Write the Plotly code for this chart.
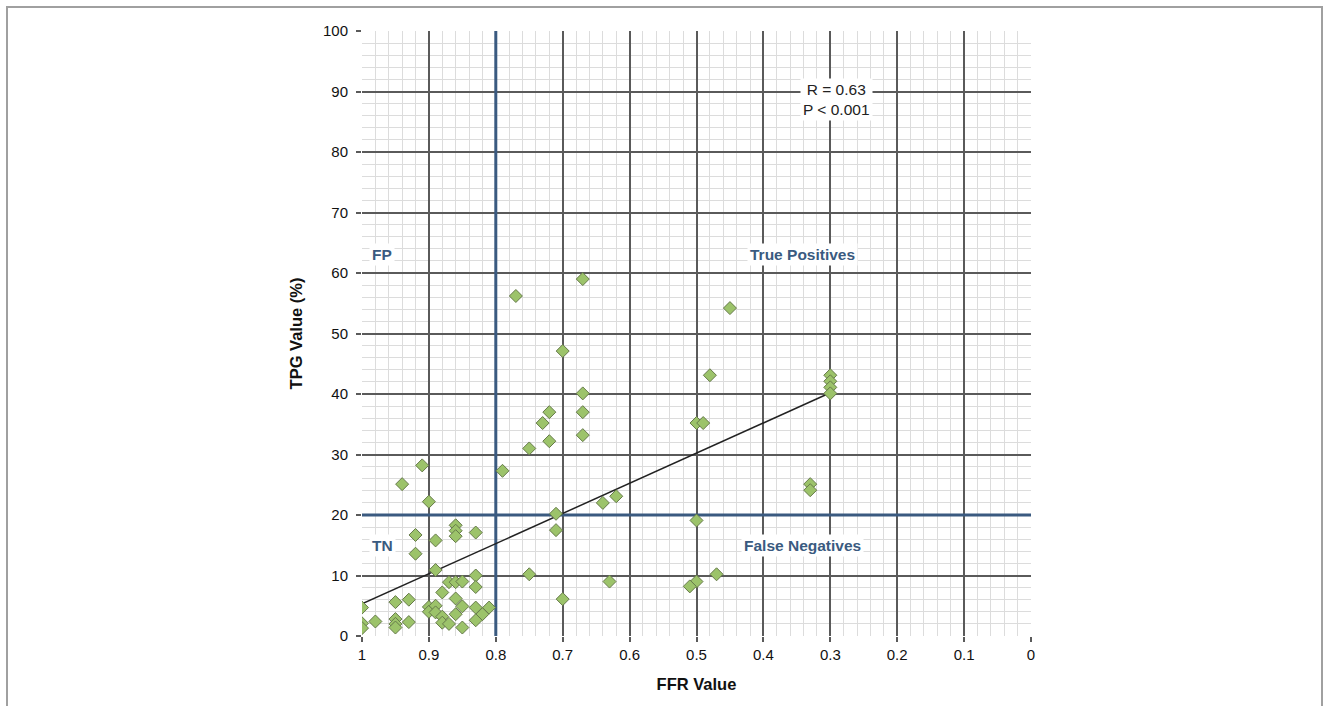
import plotly.graph_objects as go

# ---- data ----
ffr = [0.67, 0.77, 0.45, 0.70, 0.48, 0.30, 0.30, 0.30, 0.30, 0.67,
       0.67, 0.72, 0.73, 0.50, 0.49, 0.67, 0.72, 0.75, 0.91, 0.79,
       0.94, 0.33, 0.33, 0.62, 0.64, 0.90, 0.71, 0.50, 0.86, 0.86,
       0.86, 0.83, 0.92, 0.89, 0.71, 0.92, 0.89, 0.75, 0.47, 0.83,
       0.87, 0.86, 0.85, 0.63, 0.50, 0.51, 0.83, 0.88, 0.86, 0.70,
       0.93, 0.95, 1.00, 0.90, 0.90, 0.89, 0.89, 0.85, 0.83, 0.81,
       0.82, 0.86, 0.88, 0.95, 0.95, 0.95, 0.93, 0.98, 1.00, 1.00,
       0.88, 0.87, 0.83, 0.85]
tpg = [59.0, 56.2, 54.2, 47.1, 43.1, 43.1, 42.1, 41.1, 40.1, 40.1,
       37.0, 37.0, 35.2, 35.2, 35.2, 33.2, 32.2, 31.0, 28.2, 27.3,
       25.1, 25.1, 24.1, 23.1, 22.0, 22.2, 20.2, 19.1, 18.3, 17.4,
       16.5, 17.1, 16.7, 15.8, 17.5, 13.6, 10.9, 10.2, 10.2, 10.0,
       8.9, 8.9, 9.0, 9.0, 9.0, 8.2, 8.1, 7.2, 6.2, 6.1,
       6.0, 5.6, 4.7, 4.8, 4.0, 5.0, 3.9, 4.9, 4.7, 4.7,
       3.6, 3.6, 3.2, 2.8, 2.0, 1.4, 2.3, 2.4, 2.1, 1.3,
       2.2, 2.0, 2.6, 1.4]

trend_x = [1.0, 0.3]
trend_y = [5.3, 40.2]

FFR_CUTOFF = 0.8
TPG_CUTOFF = 20

x_ticks = [1, 0.9, 0.8, 0.7, 0.6, 0.5, 0.4, 0.3, 0.2, 0.1, 0]
x_tick_labels = ["1", "0.9", "0.8", "0.7", "0.6", "0.5", "0.4", "0.3", "0.2", "0.1", "0"]
y_ticks = [0, 10, 20, 30, 40, 50, 60, 70, 80, 90, 100]

quadrant_labels = ["FP", "True Positives", "TN", "False Negatives"]
quadrant_x = [0.97, 0.341, 0.97, 0.341]
quadrant_y = [63, 63, 15, 15]

stats_text = "R = 0.63<br>P < 0.001"

BLUE = "#3a5a80"
FONT = "Liberation Sans, Arial, Helvetica, sans-serif"

fig = go.Figure()

fig.add_trace(go.Scatter(
    x=trend_x, y=trend_y, mode="lines",
    line=dict(color="#222222", width=1.5), hoverinfo="skip", showlegend=False))

fig.add_trace(go.Scatter(
    x=ffr, y=tpg, mode="markers",
    marker=dict(symbol="diamond", size=10, color="#9cc36a",
                line=dict(color="#667a4a", width=1)),
    showlegend=False))

# threshold lines
fig.add_shape(type="line", xref="x", yref="y", x0=FFR_CUTOFF, x1=FFR_CUTOFF, y0=0, y1=100,
              line=dict(color=BLUE, width=3), layer="between")
fig.add_shape(type="line", xref="x", yref="y", x0=1, x1=0, y0=TPG_CUTOFF, y1=TPG_CUTOFF,
              line=dict(color=BLUE, width=3), layer="between")

# figure border
fig.add_shape(type="rect", xref="paper", yref="paper",
              x0=(7 - 362) / 669, x1=(1322 - 362) / 669,
              y0=(636 - 720) / 605, y1=(636 - 7) / 605,
              line=dict(color="#a0a0a0", width=2), fillcolor="rgba(0,0,0,0)", layer="below")

for t, xx, yy in zip(quadrant_labels, quadrant_x, quadrant_y):
    fig.add_annotation(x=xx, y=yy, text="<b>" + t + "</b>", showarrow=False,
                       font=dict(family=FONT, size=15.5, color=BLUE),
                       bgcolor="white", borderpad=2)

fig.add_annotation(x=0.291, y=88.6, text=stats_text, showarrow=False,
                   font=dict(family=FONT, size=15.5, color="#222222"),
                   bgcolor="white", borderpad=2, align="center")

fig.update_xaxes(
    range=[1, 0], tickvals=x_ticks, ticktext=x_tick_labels,
    showgrid=True, gridcolor="#5a5a5a", gridwidth=1.5,
    ticks="outside", ticklen=5, tickcolor="#5a5a5a", tickwidth=1.5,
    zeroline=False, showline=False,
    minor=dict(dtick=0.02, showgrid=True, gridcolor="#dcdcdc", gridwidth=1),
    tickfont=dict(family=FONT, size=15, color="#111111"),
    title=dict(text="<b>FFR Value</b>", font=dict(family=FONT, size=16.5, color="#111111"), standoff=16),
)
fig.update_yaxes(
    range=[0, 100], tickvals=y_ticks,
    showgrid=True, gridcolor="#5a5a5a", gridwidth=1.5,
    ticks="outside", ticklen=5, tickcolor="#5a5a5a", tickwidth=1.5,
    zeroline=False, showline=False,
    minor=dict(dtick=2, showgrid=True, gridcolor="#dcdcdc", gridwidth=1),
    tickfont=dict(family=FONT, size=15, color="#111111"),
    ticklabelstandoff=5,
    title=dict(text="<b>TPG Value (%)</b>", font=dict(family=FONT, size=16.5, color="#111111"), standoff=16),
)

fig.update_layout(
    width=1329, height=706,
    margin=dict(l=362, r=298, t=31, b=70),
    plot_bgcolor="white", paper_bgcolor="white",
    showlegend=False,
)

fig.write_html("out.html", config={"displayModeBar": False},
               post_script="document.body.style.margin='0';document.body.style.overflow='hidden';")
